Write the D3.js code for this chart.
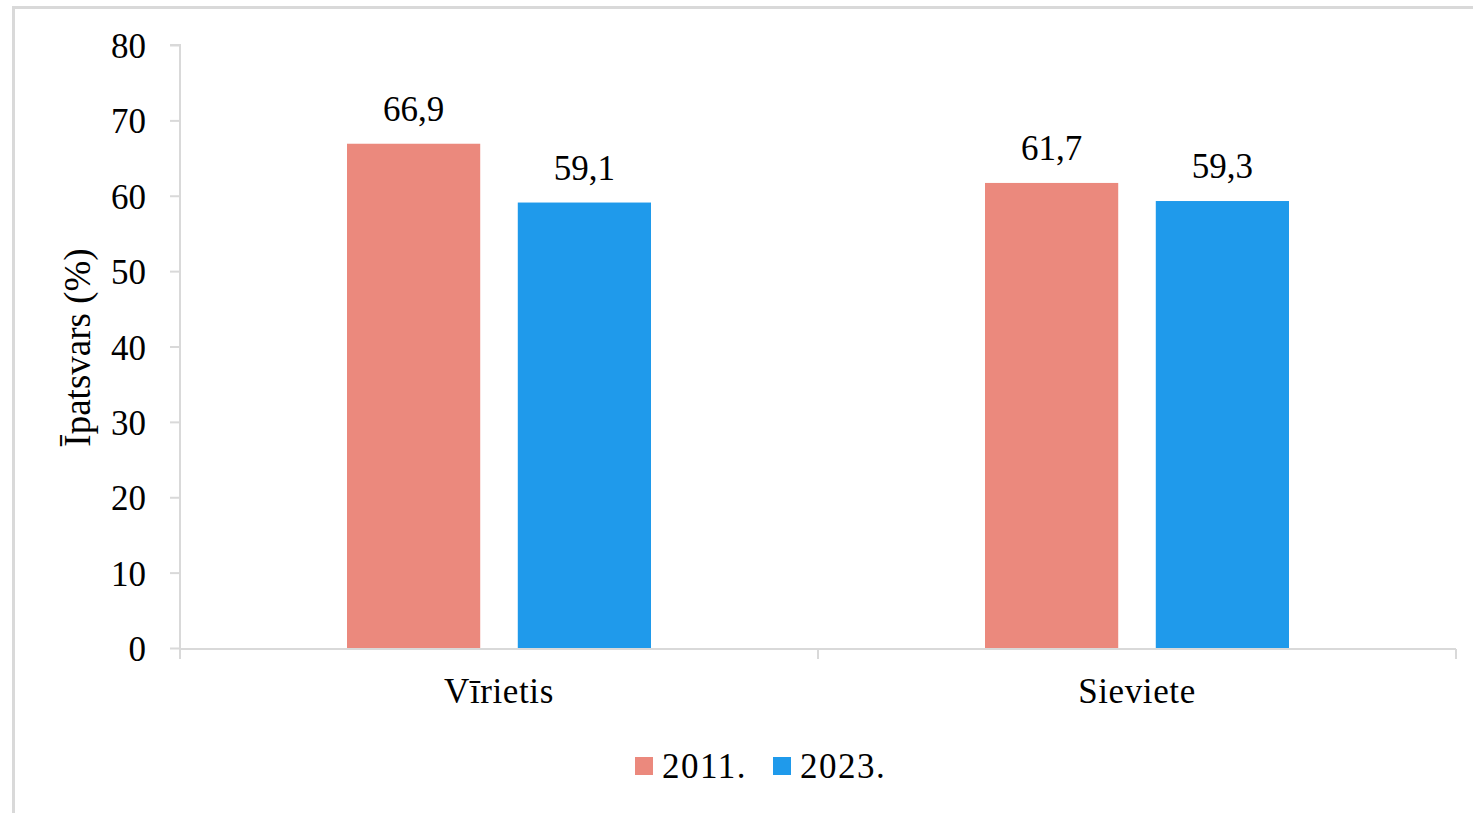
<!DOCTYPE html>
<html>
<head>
<meta charset="utf-8">
<script src="https://cdn.jsdelivr.net/npm/d3@7"></script>
<style>
  html, body { margin: 0; padding: 0; background: #fff; }
  svg { display: block; }
</style>
</head>
<body>
<svg id="chart" width="1473" height="813"></svg>
<script>
// Share of respondents by sex, 2011 vs 2023
const categories = ["Vīrietis", "Sieviete"];
const seriesNames = ["2011.", "2023."];
const values2011 = [66.9, 61.7];
const values2023 = [59.1, 59.3];
const yTicks = [0, 10, 20, 30, 40, 50, 60, 70, 80];
const yTitle = "Īpatsvars (%)";
const colors = ["#EB897D", "#1F9AEB"];

(function draw() {
  const FONT = "'Liberation Serif', 'Times New Roman', Times, serif";
  const FS = 35;
  const series = [values2011, values2023];
  const svg = d3.select("#chart");

  // outer frame
  svg.append("rect")
    .attr("x", 13.5).attr("y", 7.5)
    .attr("width", 1520).attr("height", 900)
    .attr("fill", "none").attr("stroke", "#d9d9d9").attr("stroke-width", 3);

  const plotLeft = 180, plotRight = 1456, plotTop = 45, plotBottom = 648;

  const y = d3.scaleLinear().domain([0, 80]).range([plotBottom, plotTop]);
  const x0 = d3.scaleBand().domain(categories).range([plotLeft, plotRight]);
  const x1 = d3.scaleBand().domain([0, 1]).range([167, 471]).paddingInner(0.22);

  // y axis
  const yAxis = svg.append("g").attr("transform", `translate(${plotLeft},0)`)
    .call(d3.axisLeft(y).tickValues(yTicks).tickSize(10).tickPadding(24).tickFormat(d3.format("d")));
  yAxis.attr("font-family", FONT).attr("font-size", FS);
  yAxis.select(".domain").attr("stroke", "#d9d9d9").attr("stroke-width", 2)
    .attr("d", `M-10,${plotTop}H0V${plotBottom + 1}`);
  yAxis.selectAll(".tick line").attr("stroke", "#d9d9d9").attr("stroke-width", 2);
  yAxis.selectAll(".tick text").attr("fill", "#000").attr("dy", "0.36em");

  // bars with value labels
  categories.forEach((c, i) => {
    const g = svg.append("g").attr("transform", `translate(${x0(c)},0)`);
    series.forEach((vals, s) => {
      const bx = x1(s), bw = x1.bandwidth();
      g.append("rect")
        .attr("x", bx).attr("y", y(vals[i]))
        .attr("width", bw).attr("height", y(0) - y(vals[i]))
        .attr("fill", colors[s]);
      g.append("text")
        .attr("x", bx + bw / 2).attr("y", y(vals[i]) - 23)
        .attr("text-anchor", "middle")
        .attr("font-family", FONT).attr("font-size", FS)
        .text(d3.format(".1f")(vals[i]).replace(".", ","));
    });
  });

  // x axis
  const xAxis = svg.append("g").attr("transform", `translate(0,${plotBottom + 1})`);
  xAxis.append("line").attr("x1", plotLeft).attr("x2", plotRight)
    .attr("stroke", "#d9d9d9").attr("stroke-width", 2);
  [plotLeft, (plotLeft + plotRight) / 2, plotRight].forEach(t => {
    xAxis.append("line").attr("x1", t).attr("x2", t).attr("y1", 0).attr("y2", 10)
      .attr("stroke", "#d9d9d9").attr("stroke-width", 2);
  });
  categories.forEach(c => {
    xAxis.append("text")
      .attr("x", x0(c) + x0.bandwidth() / 2).attr("y", 54)
      .attr("text-anchor", "middle")
      .attr("font-family", FONT).attr("font-size", FS)
      .attr("letter-spacing", 0.6)
      .text(c);
  });

  // y axis title
  svg.append("text")
    .attr("transform", `translate(90,${(plotTop + plotBottom) / 2 + 1}) rotate(-90)`)
    .attr("text-anchor", "middle")
    .attr("font-family", FONT).attr("font-size", 37)
    .text(yTitle);

  // legend
  const legend = svg.append("g");
  const legendX = [635, 773];
  seriesNames.forEach((n, s) => {
    legend.append("rect").attr("x", legendX[s]).attr("y", 757)
      .attr("width", 18).attr("height", 18).attr("fill", colors[s]);
    legend.append("text").attr("x", legendX[s] + 27).attr("y", 778)
      .attr("font-family", FONT).attr("font-size", FS)
      .attr("letter-spacing", 1.5).text(n);
  });
})();
</script>
</body>
</html>
